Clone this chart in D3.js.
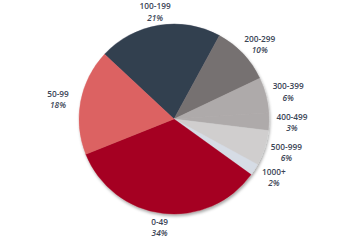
<!DOCTYPE html>
<html>
<head>
<meta charset="utf-8">
<script src="https://cdn.jsdelivr.net/npm/d3@7/dist/d3.min.js"></script>
<style>
  body { margin: 0; background: #fff; }
  svg { display: block; }
  .lbl { font-family: "Open Sans", "Noto Sans", sans-serif; font-size: 8.3px; fill: #3b4556; }
  .lbl .cat { font-weight: 600; }
  .lbl .pct { font-style: italic; font-weight: 600; }
</style>
</head>
<body>
<svg id="chart" width="347" height="241"></svg>
<script>
// data (clockwise from the top-left)
var categories = ["100-199", "200-299", "300-399", "400-499", "500-999", "1000+", "0-49", "50-99"];
var shares = [21, 10, 6, 3, 6, 2, 34, 18];
var colors = ["#333f50", "#767171", "#aeaaaa", "#aeaaaa", "#d0cece", "#d6dce5", "#a50021", "#dc6262"];

var width = 347, height = 241;
var cx = 174, cy = 119, radius = 95;

var svg = d3.select("#chart");

// soft outer shadow like the original
var defs = svg.append("defs");
var f = defs.append("filter").attr("id", "shadow")
    .attr("x", "-20%").attr("y", "-20%").attr("width", "140%").attr("height", "140%");
f.append("feDropShadow")
    .attr("dx", 1).attr("dy", 2).attr("stdDeviation", 1.5)
    .attr("flood-color", "#000").attr("flood-opacity", 0.35);

var data = categories.map(function(c, i) { return { cat: c, value: shares[i], color: colors[i] }; });

var start = -47 * Math.PI / 180;
var pie = d3.pie().sort(null).value(function(d) { return d.value; })
    .startAngle(start).endAngle(start + 2 * Math.PI);
var arcs = pie(data);

var arc = d3.arc().innerRadius(0).outerRadius(radius);

var g = svg.append("g").attr("transform", "translate(" + cx + "," + cy + ")");

g.append("g").attr("filter", "url(#shadow)")
    .selectAll("path")
    .data(arcs)
    .enter()
    .append("path")
    .attr("d", arc)
    .attr("fill", function(d) { return d.data.color; })
    .attr("stroke", function(d) { return d.data.color; })
    .attr("stroke-width", 0.4);

// labels sit just outside the edge, the box pushed out along the slice's mid direction
var boxW = 38, boxH = 20, gap = 4;

var labels = g.selectAll(".lbl")
    .data(arcs)
    .enter()
    .append("text")
    .attr("class", "lbl")
    .attr("text-anchor", "middle")
    .attr("transform", function(d) {
        var a = (d.startAngle + d.endAngle) / 2;
        var ux = Math.sin(a), uy = -Math.cos(a);
        var x = ux * (radius + gap) + ux * boxW / 2;
        var y = uy * (radius + gap) + uy * boxH / 2;
        return "translate(" + x + "," + y + ")";
    });

labels.append("tspan").attr("class", "cat")
    .attr("x", 0).attr("dy", "-0.25em")
    .text(function(d) { return d.data.cat; });

labels.append("tspan").attr("class", "pct")
    .attr("x", 0).attr("dy", "1.35em")
    .text(function(d) { return d.data.value + "%"; });
</script>
</body>
</html>
